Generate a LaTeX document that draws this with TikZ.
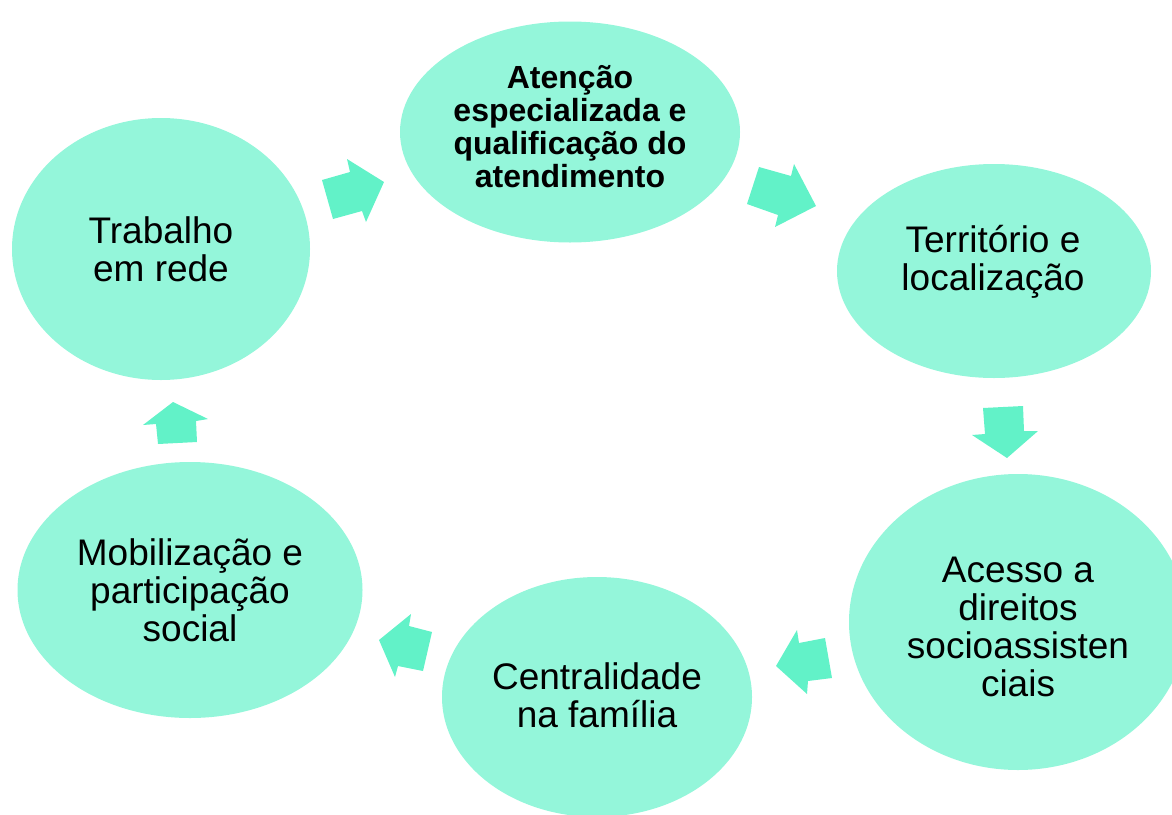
\documentclass[tikz,border=0pt]{standalone}
\usepackage{fontspec}
\setmainfont{Liberation Sans}
\usetikzlibrary{shapes.geometric}
\definecolor{bubble}{RGB}{148,246,218}
\definecolor{arrowc}{RGB}{98,242,200}
\tikzset{
  bubble/.style={ellipse, fill=bubble, draw=none, inner sep=0pt},
  lbl/.style={align=center, text=black, font=\fontsize{37}{38}\selectfont, inner sep=0pt},
  lblb/.style={align=center, text=black, font=\fontsize{32}{33}\selectfont\bfseries, inner sep=0pt},
  blockarrow/.style={fill=arrowc, draw=none}
}
\begin{document}
\begin{tikzpicture}[x=1pt,y=-1pt]
\useasboundingbox (0,0) rectangle (1172,814);
\begin{scope}
\clip (0,0) rectangle (1172,814);
\node[bubble, minimum width=340, minimum height=221] (e1) at (570,132) {};
\node[bubble, minimum width=314, minimum height=214] (e2) at (994,271) {};
\node[bubble, minimum width=338, minimum height=296] (e3) at (1018,622) {};
\node[bubble, minimum width=310, minimum height=240] (e4) at (597,697) {};
\node[bubble, minimum width=345, minimum height=256] (e5) at (190,590) {};
\node[bubble, minimum width=298, minimum height=262] (e6) at (161,249) {};
\end{scope}
\node[lblb] (t1) at (570,127) {Atenção\\especializada e\\qualificação do\\atendimento};
\node[lbl] (t2) at (993,262) {Território e\\localização};
\node[lbl] (t3) at (1018,627) {Acesso a\\direitos\\socioassisten\\ciais};
\node[lbl] (t4) at (597,695) {Centralidade\\na família};
\node[lbl] (t5) at (190,590) {Mobilização e\\participação\\social};
\node[lbl] (t6) at (161,249) {Trabalho\\em rede};
% block arrows
\fill[blockarrow] (322,180) -- (350,172) -- (347,159) -- (384,182) -- (366,222) -- (362,211) -- (333,219) -- cycle;
\fill[blockarrow] (759,167) -- (791,176) -- (794,164) -- (816,206) -- (775,227) -- (778,215) -- (747,204) -- cycle;
\fill[blockarrow] (983,408) -- (1023,406) -- (1024,431) -- (1038,431) -- (1007,458) -- (972,435) -- (985,434) -- cycle;
\fill[blockarrow] (825,638) -- (832,678) -- (808,681) -- (807,694) -- (776,666) -- (797,630) -- (799,643) -- cycle;
\fill[blockarrow] (432,632) -- (423,671) -- (398,666) -- (395,677) -- (379,640) -- (411,614) -- (409,626) -- cycle;
\fill[blockarrow] (173,402) -- (208,419) -- (196,421) -- (197,442) -- (158,444) -- (156,424) -- (143,425) -- cycle;
\end{tikzpicture}
\end{document}
